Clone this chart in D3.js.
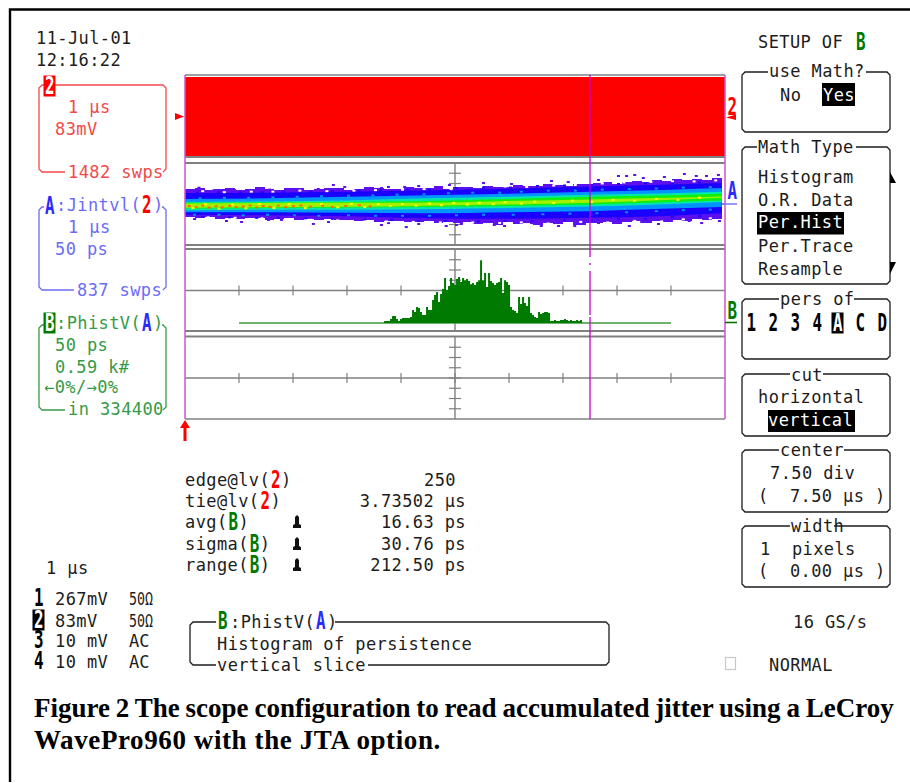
<!DOCTYPE html>
<html>
<head>
<meta charset="utf-8">
<title>Scope configuration</title>
<script src="https://cdn.jsdelivr.net/npm/d3@7"></script>
<style>
	body { margin: 0; background: #fff; }
	svg { display: block; }
	text { font-family: "DejaVu Sans Mono", monospace; font-size: 17px; letter-spacing: 0.4px; white-space: pre; }
	text.caption { font-family: "Liberation Serif", serif; font-weight: bold; font-size: 27px; letter-spacing: 0; }
</style>
</head>
<body>
<figure id="scope" style="margin:0"></figure>
<script>
// values. time in scope divisions, amplitude in divisions from the trace centre

// trace A, outer edge of the persistence band, one value per screen column of 10 px
const violetTop = [1.45, 1.55, 1.4, 1.5, 1.6, 1.35, 1.5, 1.65, 1.45, 1.4,
	1.55, 1.6, 1.4, 1.45, 1.6, 1.55, 1.35, 1.5, 1.65, 1.6,
	1.45, 1.5, 1.7, 1.55, 1.6, 1.75, 1.5, 1.65, 1.7, 1.6,
	1.8, 1.7, 1.65, 1.85, 1.8, 1.75, 1.95, 1.9, 1.8, 2.0,
	1.95, 2.05, 2.1, 1.95, 2.15, 2.25, 2.15, 2.3, 2.2, 2.4,
	2.3, 2.45, 2.35, 2.55, 2.5];
const violetBot = [-1.3, -1.4, -1.3, -1.45, -1.35, -1.5, -1.4, -1.35, -1.55, -1.45,
	-1.4, -1.55, -1.5, -1.6, -1.45, -1.6, -1.55, -1.7, -1.6, -1.75,
	-1.7, -1.65, -1.8, -1.75, -1.7, -1.9, -1.8, -1.85, -1.75, -1.95,
	-1.85, -2.0, -1.8, -1.95, -1.85, -2.05, -1.9, -1.95, -1.8, -2.0,
	-1.85, -1.9, -1.75, -1.95, -1.8, -1.7, -1.85, -1.65, -1.75, -1.6,
	-1.7, -1.5, -1.6, -1.45, -1.4];
const bandColDiv = 0.1841;

// inner colour bands
const knots = [0, 1.5, 3, 4.5, 6, 7.5, 9, 9.94];
const blueTop = [1.05, 1.1, 1.2, 1.35, 1.5, 1.7, 1.9, 2.05];
const blueBot = [-1.05, -1.1, -1.2, -1.4, -1.45, -1.35, -1.15, -0.9];
const azureTop = [0.5, 0.55, 0.7, 0.85, 1.0, 1.2, 1.4, 1.55];
const azureBot = [-0.8, -0.8, -0.85, -0.9, -0.8, -0.7, -0.45, -0.3];
const springTop = [0.2, 0.25, 0.35, 0.55, 0.7, 0.9, 1.05, 1.2];
const springBot = [-0.6, -0.55, -0.55, -0.5, -0.4, -0.25, 0, 0.2];
const greenTop = [0.12, 0.15, 0.2, 0.3, 0.5, 0.7, 0.85, 1.0];
const greenBot = [-0.45, -0.4, -0.35, -0.3, -0.2, -0.05, 0.2, 0.35];
const limeTop = [0.06, 0.1, 0.12, 0.14, 0.3, 0.45, 0.6, 0.72];
const limeBot = [-0.36, -0.32, -0.28, -0.16, -0.05, 0.12, 0.42, 0.62];

// stray hits outside the band and grain inside it [div, div]
const violetSpecks = [[0.23, 1.69], [0.51, 1.45], [0.89, 1.46], [1.11, 1.4], [1.54, 1.5], [2.0, 1.5], [2.44, 1.56], [2.72, 1.95], [2.93, 1.76], [2.81, 1.56], [3.61, 1.66], [3.74, 1.76], [4.04, 1.76], [4.3, 1.85], [4.87, 1.95],
	[0.15, -1.37], [0.74, -1.56], [1.02, -1.66], [1.52, -1.46], [1.76, -1.46], [2.35, -1.85], [2.63, -1.66], [3.61, -1.95], [3.74, -1.76], [4.07, -2.15], [4.3, -1.85], [4.6, -1.46], [4.81, -2.05], [5.0, -1.95],
	[5.5, 2.15], [6.02, 2.05], [6.76, 2.34], [7.07, 2.24], [7.63, 2.44], [8.0, 2.83], [8.15, 2.83], [8.3, 2.93], [8.46, 2.63], [8.85, 2.73], [9.22, 3.02], [9.44, 2.83], [9.63, 2.83], [9.85, 2.93],
	[5.09, -1.85], [5.7, -1.95], [5.89, -2.05], [6.39, -1.76], [6.57, -2.05], [6.89, -2.05], [7.19, -2.05], [7.37, -1.85], [7.63, -1.76], [8.11, -1.56], [8.2, -2.05], [8.43, -1.66], [8.74, -1.85], [8.98, -1.56], [9.31, -1.56], [9.54, -1.76], [9.87, -1.56]];
const whiteSpecks = [[0.3, 1.35], [0.7, 1.25], [1.2, 1.3], [1.6, 1.3], [2.1, 1.4], [2.6, 1.35], [3.1, 1.4], [3.5, 1.45], [4.0, 1.5], [4.4, 1.55], [4.9, 1.55], [5.4, 1.75], [5.9, 1.8], [6.3, 1.75], [6.8, 1.9], [7.2, 1.95], [7.7, 2.1], [8.1, 2.2], [8.6, 2.25], [9.0, 2.3], [9.4, 2.3], [9.8, 2.4],
	[0.4, -1.2], [0.9, -1.25], [1.4, -1.3], [1.9, -1.4], [2.3, -1.45], [2.8, -1.5], [3.3, -1.6], [3.7, -1.6], [4.2, -1.65], [4.7, -1.7], [5.3, -1.7], [5.8, -1.75], [6.2, -1.7], [6.7, -1.8], [7.3, -1.65], [7.8, -1.7], [8.3, -1.55], [8.8, -1.6], [9.2, -1.4], [9.7, -1.3]];
const blueSpecks = [[0.2, 1.2], [0.6, 1.25], [1.0, 1.2], [1.4, 1.25], [1.8, 1.3], [2.3, 1.3], [2.7, 1.35], [3.2, 1.4], [3.6, 1.45], [4.1, 1.5], [4.5, 1.5], [5.0, 1.65], [5.5, 1.7], [6.0, 1.7], [6.5, 1.85], [7.0, 1.9], [7.5, 1.9], [8.0, 2.05], [8.5, 2.1], [9.0, 2.1], [9.5, 2.2],
	[0.3, -1.15], [0.8, -1.2], [1.3, -1.25], [1.7, -1.25], [2.2, -1.3], [2.7, -1.35], [3.3, -1.4], [3.8, -1.45], [4.3, -1.55], [4.8, -1.55], [5.4, -1.6], [5.9, -1.55], [6.4, -1.55], [7.0, -1.5], [7.5, -1.5], [8.0, -1.35], [8.5, -1.35], [9.0, -1.2], [9.5, -1.1]];
const azureSpecks = [[0.25, 0.65], [0.7, 0.7], [1.15, 0.7], [1.6, 0.75], [2.05, 0.8], [2.5, 0.85], [3.0, 0.9], [3.45, 0.95], [3.9, 1.0], [4.4, 1.05], [4.85, 1.15], [5.3, 1.2], [5.8, 1.2], [6.2, 1.3], [6.7, 1.4], [7.2, 1.4], [7.7, 1.5], [8.2, 1.55], [8.7, 1.6], [9.2, 1.7], [9.7, 1.75],
	[0.15, -0.95], [0.6, -0.95], [1.05, -1.0], [1.5, -0.95], [2.0, -1.0], [2.45, -1.05], [3.0, -1.0], [3.5, -1.05], [4.0, -1.05], [4.5, -1.05], [5.0, -1.0], [5.5, -0.95], [6.05, -0.95], [6.6, -0.9], [7.1, -0.85], [7.6, -0.8], [8.15, -0.7], [8.7, -0.6], [9.2, -0.5], [9.7, -0.45]];
const hotSpecks = [[0.05, -0.1], [0.18, -0.2], [0.3, -0.05], [0.42, -0.25], [0.55, -0.12], [0.66, -0.22], [0.8, -0.08], [0.92, -0.2], [1.05, -0.15], [1.18, -0.05], [1.3, -0.24], [1.42, -0.1], [1.55, -0.18], [1.7, -0.06], [1.84, -0.2], [1.98, -0.12], [2.12, -0.04], [2.3, -0.16], [2.52, -0.08], [2.7, -0.2], [2.95, -0.1], [3.2, -0.02], [3.4, -0.14]];
const yellowSpecks = [[0.12, -0.3], [0.35, 0.08], [0.6, -0.36], [0.85, 0.05], [1.1, -0.32], [1.35, 0.1], [1.62, -0.3], [1.9, 0.08], [2.2, -0.3], [2.5, 0.1], [2.8, -0.22], [3.05, 0.12], [3.3, -0.2], [3.55, 0.08], [3.78, -0.1], [4.0, 0.1], [4.25, -0.06], [4.5, 0.14], [4.72, -0.02], [4.95, 0.2], [5.2, 0.05], [5.42, 0.22], [5.68, 0.08], [5.9, 0.28], [6.2, 0.14], [6.45, 0.32], [6.8, 0.2], [7.15, 0.42], [7.5, 0.3], [7.9, 0.5], [8.3, 0.42], [8.7, 0.6], [9.1, 0.5], [9.5, 0.72]];

// trace B histogram, k# per bin, bins start at histStartPs and are 2 screen pixels wide
const histStartPs = -65.7;
const histBinPs = 1.852;
const histK = [0.06, 0.06, 0.06, 0.17, 0.34, 0.34, 0.17, 0.06, 0.17, 0.23, 0.23, 0.23, 0.23, 0.29, 0.69, 0.57, 0.86, 0.8, 0.57, 0.4, 0.4, 0.86, 0.69, 0.69, 1.26, 1.55, 1.72, 1.15, 1.61, 1.9, 2.53, 1.84, 2.07, 2.53, 2.24, 2.13, 2.47, 2.59, 2.3, 2.53, 2.41, 2.47, 2.36, 2.18, 2.24, 2.13, 2.3, 2.41, 3.56, 2.41, 2.82, 2.01, 2.82, 2.36, 2.24, 2.13, 2.24, 2.3, 2.53, 1.67, 2.41, 2.3, 2.13, 0.86, 0.69, 0.63, 0.52, 1.44, 1.03, 1.44, 1.09, 0.92, 1.44, 0.52, 0.4, 0.29, 0.23, 0.57, 0.46, 0.52, 0.57, 0.57, 0.52, 0.06, 0.06, 0.12, 0.06, 0.06, 0.12, 0.12, 0.17, 0.12, 0.06, 0.12, 0.06, 0.06, 0.12, 0.06, 0.12, 0.06];
const histFlatPs = [-200, 200];

// text
const menuItems = ["Histogram", "O.R. Data", "Per.Hist", "Per.Trace", "Resample"];
const persOf = ["1", "2", "3", "4", "A", "C", "D"];
const measureNames = ["edge@lv(", "tie@lv(", "avg(", "sigma(", "range("];
const measureChan = ["2", "2", "B", "B", "B"];
const measureVals = ["250", "3.73502 µs", "16.63 ps", "30.76 ps", "212.50 ps"];
const chanRows = ["1", "2", "3", "4"];
const chanScale = ["267mV", "83mV", "10 mV", "10 mV"];
const chanCoupling = ["50Ω", "50Ω", "AC", "AC"];

const RED = "#ff0000", BLUE = "#2a2aff", GREEN = "#007a00";
const RED_L = "#f24a4a", BLUE_L = "#6c6cf8", GREEN_L = "#359a45";
const GRID = "#808080", CURSOR = "#cc00cc", EDGE = "#cc55cc", INK = "#1c1c1c";

var svg = d3.select("figure#scope")
	.append("svg")
	.attr("width", 910)
	.attr("height", 783)
	.attr("viewBox", "0 0 910 783");

// scales
var xDiv = d3.scaleLinear().domain([0, 10]).range([185, 725]);
var xPs = d3.scaleLinear().domain([-250, 250]).range([185, 725]);
var yA = d3.scaleLinear().domain([-4, 4]).range([245, 163]);
var yHist = d3.scaleLinear().domain([0, 0.59 * 8]).range([322, 240]);

function text(x, y, str, color, anchor) {
	return svg.append("text")
		.attr("x", x)
		.attr("y", y)
		.attr("fill", color || INK)
		.attr("text-anchor", anchor || "start")
		.text(str);
}

// the heavy narrow channel letters
function chan(x, y, ch, color, invert) {
	if (invert) {
		svg.append("rect")
			.attr("x", x - 1.5).attr("y", y - 18.5)
			.attr("width", 12).attr("height", 21)
			.attr("fill", color);
	}
	svg.append("text")
		.attr("transform", `translate(${x},${y}) scale(0.66,1)`)
		.attr("fill", invert ? "#fff" : color)
		.style("font-size", "24px")
		.style("font-weight", "bold")
		.style("letter-spacing", "0")
		.text(ch);
}

// box with clipped corners and gaps for text in the top and bottom edges
function box(x0, y0, x1, y1, color, topGap, botGap) {
	var r = 3, p = d3.path();
	if (topGap) { p.moveTo(topGap[1], y0); } else { p.moveTo(x0 + r, y0); }
	p.lineTo(x1 - r, y0);
	p.lineTo(x1, y0 + r);
	p.lineTo(x1, y1 - r);
	p.lineTo(x1 - r, y1);
	if (botGap) { p.lineTo(botGap[1], y1); p.moveTo(botGap[0], y1); }
	p.lineTo(x0 + r, y1);
	p.lineTo(x0, y1 - r);
	p.lineTo(x0, y0 + r);
	p.lineTo(x0 + r, y0);
	if (topGap) { p.lineTo(topGap[0], y0); } else { p.closePath(); }
	svg.append("path")
		.attr("d", p.toString())
		.attr("fill", "none")
		.attr("stroke", color)
		.attr("stroke-width", 1.3);
}

function hiliteText(x, y, str, rx, ry, rw, rh) {
	svg.append("rect").attr("x", rx).attr("y", ry).attr("width", rw).attr("height", rh).attr("fill", "#000");
	text(x, y, str, "#fff");
}

function poly(pts, color) {
	svg.append("polygon")
		.attr("points", pts.map(d => d.join(",")).join(" "))
		.attr("fill", color);
}

// page frame, only top and left are there
svg.append("path")
	.attr("d", "M910,9.5H10V782")
	.attr("fill", "none")
	.attr("stroke", "#000")
	.attr("stroke-width", 2.4);

// panels -----------------------------------------------------------------
var defs = svg.append("defs");
defs.append("pattern")
	.attr("id", "reddots").attr("width", 10).attr("height", 10)
	.attr("patternUnits", "userSpaceOnUse")
	.append("rect").attr("x", 4).attr("y", 4).attr("width", 1.5).attr("height", 1.5).attr("fill", "#e41010");

svg.append("rect").attr("x", 185).attr("y", 77).attr("width", 540).attr("height", 79).attr("fill", RED);
svg.append("rect").attr("x", 185).attr("y", 77).attr("width", 540).attr("height", 79).attr("fill", "url(#reddots)");

[75, 157, 163, 245, 249, 331, 336.5, 419].forEach(y => {
	svg.append("line")
		.attr("x1", 185).attr("x2", 725)
		.attr("y1", y).attr("y2", y)
		.attr("stroke", GRID)
		.attr("stroke-width", y == 75 || y == 419 ? 1.6 : 2);
});

// graticule in the three lower panels
var midYs = [204, 290.5, 378];
midYs.forEach(mid => {
	svg.append("line").attr("x1", 185).attr("x2", 725).attr("y1", mid).attr("y2", mid)
		.attr("stroke", GRID).attr("stroke-width", 1.4);
	svg.append("line").attr("x1", xDiv(5)).attr("x2", xDiv(5)).attr("y1", mid - 41).attr("y2", mid + 41)
		.attr("stroke", GRID).attr("stroke-width", 1.4);
	d3.range(1, 10).forEach(i => {
		svg.append("line").attr("x1", xDiv(i)).attr("x2", xDiv(i)).attr("y1", mid - 5).attr("y2", mid + 5)
			.attr("stroke", GRID).attr("stroke-width", 1.2);
	});
	d3.range(-3, 4).forEach(i => {
		svg.append("line").attr("x1", xDiv(5) - 6).attr("x2", xDiv(5) + 6)
			.attr("y1", mid + i * 10.25).attr("y2", mid + i * 10.25)
			.attr("stroke", GRID).attr("stroke-width", 1.2);
	});
});

// trace A persistence
var bandEdge = d3.area()
	.x((d, i) => xDiv(i * bandColDiv))
	.y0((d, i) => yA(violetBot[i]))
	.y1(d => yA(d))
	.curve(d3.curveStepAfter);
svg.append("path")
	.datum(violetTop)
	.attr("d", bandEdge)
	.attr("fill", "#5c10ee")
	.attr("shape-rendering", "crispEdges");
svg.append("line").attr("x1", 722).attr("x2", 737).attr("y1", 204).attr("y2", 204).attr("stroke", BLUE_L).attr("stroke-width", 1.4);

var bands = [
	[blueTop, blueBot, "#1a00ff"],
	[azureTop, azureBot, "#0094ff"],
	[springTop, springBot, "#00e8a8"],
	[greenTop, greenBot, "#10f010"],
	[limeTop, limeBot, "#a0f000"]
];
var bandArea = d3.area()
	.x((d, i) => xDiv(knots[i]))
	.y0(d => yA(d[1]))
	.y1(d => yA(d[0]))
	.curve(d3.curveMonotoneX);
bands.forEach(b => {
	svg.append("path")
		.datum(b[0].map((t, i) => [t, b[1][i]]))
		.attr("d", bandArea)
		.attr("fill", b[2]);
});

function specks(list, color) {
	svg.append("g").selectAll("rect")
		.data(list)
		.enter()
		.append("rect")
		.attr("x", d => xDiv(d[0]))
		.attr("y", d => yA(d[1]))
		.attr("width", 3)
		.attr("height", 2)
		.attr("fill", color);
}
specks(violetSpecks, "#5c10ee");
specks(whiteSpecks, "#ffffff");
specks(blueSpecks, "#1a00ff");
specks(azureSpecks, "#0094ff");
specks(yellowSpecks, "#ffff00");
specks(hotSpecks, "#ff6a00");

// trace B histogram
svg.append("line")
	.attr("x1", xPs(histFlatPs[0])).attr("x2", xPs(histFlatPs[1]))
	.attr("y1", yHist(0) + 1).attr("y2", yHist(0) + 1)
	.attr("stroke", "#3c9a3c").attr("stroke-width", 1.5);

var histArea = d3.area()
	.x((d, i) => xPs(histStartPs + i * histBinPs))
	.y0(yHist(0) + 1)
	.y1(d => yHist(d))
	.curve(d3.curveStepAfter);
svg.append("path")
	.datum(histK)
	.attr("d", histArea)
	.attr("fill", GREEN);

// edges and cursor
[185, 725].forEach(x => {
	svg.append("line").attr("x1", x).attr("x2", x).attr("y1", 75).attr("y2", 419)
		.attr("stroke", EDGE).attr("stroke-width", 1.5);
});
[[75, 257], [263, 265], [271, 315], [317, 419]].forEach(s => {
	svg.append("line")
		.attr("x1", xDiv(7.5)).attr("x2", xDiv(7.5))
		.attr("y1", s[0]).attr("y2", s[1])
		.attr("stroke", CURSOR).attr("stroke-width", 1.3);
});

// markers around the panels
poly([[175, 113], [184, 116.5], [175, 120]], RED);
poly([[180, 428], [185, 420], [190, 428], [186.5, 428], [186.5, 441], [183.5, 441], [183.5, 428]], RED);
chan(727.5, 115, "2", RED);
poly([[726, 117.5], [736, 114.5], [736, 120]], RED);
chan(727.5, 199, "A", BLUE);
chan(727.5, 319, "B", GREEN);
svg.append("line").attr("x1", 725).attr("x2", 737).attr("y1", 322.5).attr("y2", 322.5).attr("stroke", GREEN).attr("stroke-width", 1.6);

// left column ------------------------------------------------------------
text(36, 44, "11-Jul-01");
text(36, 66, "12:16:22");

box(39, 85, 166, 172, RED_L, [44, 54], [65, 163]);
chan(45, 94, "2", RED, true);
text(68, 113, "1 µs", RED_L);
text(55, 135, "83mV", RED_L);
text(68, 178, "1482 swps", RED_L);

box(39, 207, 166, 290, BLUE_L, [44, 162], [74, 163]);
chan(45, 214, "A", BLUE);
text(56, 211, ":Jintvl(", BLUE_L);
chan(142, 213, "2", RED);
text(153, 211, ")", BLUE_L);
text(68, 233, "1 µs", BLUE_L);
text(55, 255, "50 ps", BLUE_L);
text(77, 296, "837 swps", BLUE_L);

box(39, 325, 166, 410, GREEN_L, [44, 162], [65, 163]);
chan(45, 331, "B", GREEN, true);
text(56, 329, ":PhistV(", GREEN_L);
chan(142, 331, "A", BLUE);
text(153, 329, ")", GREEN_L);
text(55, 351, "50 ps", GREEN_L);
text(55, 373, "0.59 k#", GREEN_L);
text(44, 393, "←0%/→0%", GREEN_L);
text(68, 415, "in 334400", GREEN_L);

// measurements
measureNames.forEach((name, i) => {
	var y = [486, 507, 528, 550, 571][i];
	var t = text(185, y, name);
	var w = t.node().getComputedTextLength();
	chan(185 + w + 1, y + 2, measureChan[i], measureChan[i] == "2" ? RED : GREEN);
	text(185 + w + 11, y, ")");
	text(i == 0 ? 456 : 466, y, measureVals[i], INK, "end");
	if (i > 1) {
		poly([[293, y], [301, y], [301, y - 3], [299, y - 4], [299, y - 11], [297, y - 13], [295, y - 11], [295, y - 4], [293, y - 3]], "#111");
	}
});

// channel list
text(46, 574, "1 µs");
chanRows.forEach((c, i) => {
	var y = [605, 627, 647, 668][i];
	chan(34, y + 1, c, "#000", c == "2");
	text(55, y, chanScale[i]);
	var coupling = text(129, y, chanCoupling[i]).style("letter-spacing", "0");
	if (i < 2) { coupling.attr("textLength", 24).attr("lengthAdjust", "spacingAndGlyphs"); }
});

box(190, 622, 609, 665, INK, [216, 335], [216, 368]);
chan(218, 629, "B", GREEN);
text(230, 628, ":PhistV(");
chan(316, 629, "A", BLUE);
text(327, 628, ")");
text(217, 650, "Histogram of persistence");
text(217, 671, "vertical slice");

// menus ------------------------------------------------------------------
text(758, 48, "SETUP OF");
chan(856, 50, "B", GREEN);

box(742, 72, 890, 132, INK, [768, 866]);
text(769, 77, "use Math?");
text(780, 101, "No");
hiliteText(823, 101, "Yes", 822, 83, 33, 23);

box(742, 147, 890, 284, INK, [757, 856]);
text(758, 153, "Math Type");
var menuY = [183, 206, 228, 252, 275];
menuItems.forEach((m, i) => {
	if (i == 2) { hiliteText(758, menuY[i], m, 757, 212, 87, 22.5); }
	else { text(758, menuY[i], m); }
});
poly([[890, 172], [896, 183], [890, 183]], "#000");
poly([[890, 262], [896, 262], [890, 274]], "#000");

box(742, 299, 890, 359, INK, [779, 854]);
text(780, 305, "pers of");
persOf.forEach((p, i) => {
	var x = [746.5, 768.5, 790.5, 812.5, 833, 855.5, 877.5][i];
	chan(x, 331, p, "#000", p == "A");
});

box(742, 374, 890, 436, INK, [790, 823]);
text(791, 381, "cut");
text(758, 403, "horizontal");
hiliteText(768, 426, "vertical", 768, 410, 87, 22);

box(742, 450, 890, 512, INK, [779, 844]);
text(780, 456, "center");
text(770, 479, "7.50 div");
text(758, 502, "(  7.50 µs )");

box(742, 526, 890, 587, INK, [790, 834]);
text(791, 532, "width");
text(760, 555, "1  pixels");
text(758, 577, "(  0.00 µs )");

text(793, 628, "16 GS/s");
svg.append("rect").attr("x", 725.5).attr("y", 657.5).attr("width", 10).attr("height", 12)
	.attr("fill", "none").attr("stroke", "#c8c8c8").attr("stroke-width", 1.2);
text(769, 671, "NORMAL");

// caption
svg.append("text").attr("class", "caption").attr("x", 34).attr("y", 717).attr("fill", "#000")
	.style("word-spacing", "-0.9px")
	.text("Figure 2 The scope configuration to read accumulated jitter using a LeCroy");
svg.append("text").attr("class", "caption").attr("x", 34).attr("y", 749).attr("fill", "#000")
	.style("letter-spacing", "0.6px")
	.text("WavePro960 with the JTA option.");
</script>
</body>
</html>
